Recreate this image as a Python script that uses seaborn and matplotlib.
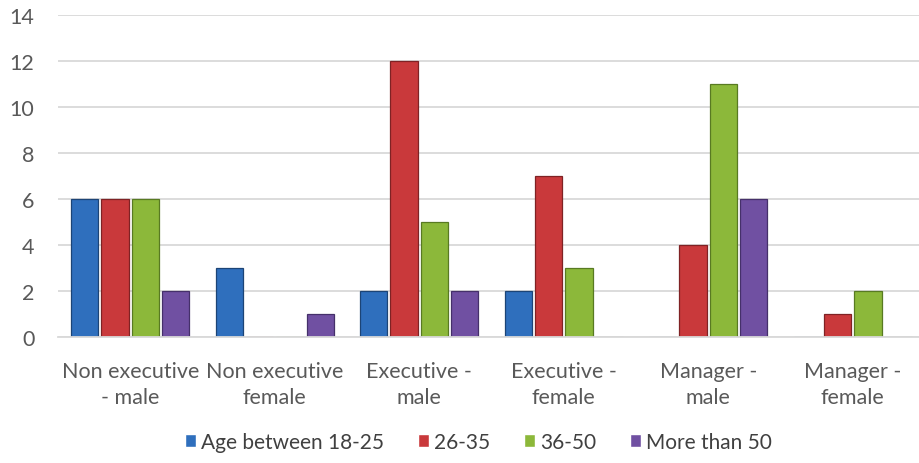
import matplotlib.pyplot as plt
import seaborn as sns
import pandas as pd

categories = ["Non executive\n- male", "Non executive\nfemale", "Executive -\nmale",
              "Executive -\nfemale", "Manager -\nmale", "Manager -\nfemale"]
series = ["Age between 18-25", "26-35", "36-50", "More than 50"]
age_18_25 = [6, 3, 2, 2, 0, 0]
age_26_35 = [6, 0, 12, 7, 4, 1]
age_36_50 = [6, 0, 5, 3, 11, 2]
age_50_plus = [2, 1, 2, 0, 6, 0]

colors = ["#2f6fbd", "#c9393b", "#8cb83a", "#7050a2"]
edges = ["#1c4476", "#7f2224", "#587a22", "#45306a"]

rows = []
for name, vals in zip(series, [age_18_25, age_26_35, age_36_50, age_50_plus]):
    for cat, v in zip(categories, vals):
        rows.append({"category": cat, "series": name, "value": v})
df = pd.DataFrame(rows)

sns.set_theme(style="white")
plt.rcParams['font.family'] = ['Lato', 'DejaVu Sans']

fig = plt.figure(figsize=(9.2, 4.64), dpi=100)
ax = fig.add_axes([0.063, 0.2716, 0.9424, 0.694])

sns.barplot(data=df, x="category", y="value", hue="series", palette=colors,
            saturation=1, width=0.84, gap=0.1, ax=ax, legend=True)

# darker outline per series
for cont, ec in zip(ax.containers, edges):
    for bar in cont:
        bar.set_edgecolor(ec)
        bar.set_linewidth(0.9)

ax.set_xlim(-0.5, 5.5)
ax.set_ylim(0, 14)
ax.set_yticks(range(0, 15, 2))
ax.yaxis.grid(True, color="#d9d9d9", linewidth=1.3)
ax.set_axisbelow(True)
for s in ["top", "right", "left"]:
    ax.spines[s].set_visible(False)
ax.spines["bottom"].set_color("#d9d9d9")
ax.spines["bottom"].set_linewidth(1.3)
ax.tick_params(axis="both", length=0, labelsize=15.5, colors="#595959")
ax.tick_params(axis="y", pad=17)
ax.tick_params(axis="x", pad=17)
for lab in ax.get_xticklabels():
    lab.set_linespacing(1.4)
ax.set_xlabel("")
ax.set_ylabel("")

ax.legend(loc="center", bbox_to_anchor=(0.52, 0.046), bbox_transform=fig.transFigure,
          ncol=4, frameon=False, fontsize=15, handlelength=0.55, handleheight=0.55,
          handletextpad=0.25, columnspacing=1.6, labelcolor="#404040")

fig.savefig("out.png", dpi=100)
